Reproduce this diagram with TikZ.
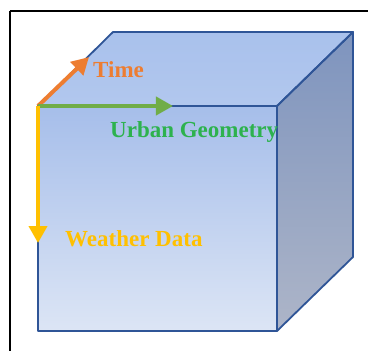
\documentclass[tikz,border=0pt]{standalone}
\usepackage{fontspec}
\setmainfont{Liberation Serif}
\usetikzlibrary{arrows.meta}
\definecolor{edgeblue}{HTML}{2F5597}
\definecolor{frontTop}{HTML}{A6BEEA}
\definecolor{frontBot}{HTML}{DCE5F5}
\definecolor{topFace}{HTML}{A9C1EC}
\definecolor{sideTop}{HTML}{7E94BE}
\definecolor{sideBot}{HTML}{ADB5C8}
\definecolor{orangeA}{HTML}{ED7D31}
\definecolor{greenA}{HTML}{70AD47}
\definecolor{greenT}{HTML}{2DB24E}
\definecolor{yellowA}{HTML}{FFC000}
\tikzset{
  face/.style={draw=edgeblue, line width=1.8pt, line join=round},
  axis/.style={line width=4pt, -{Triangle[length=17pt,width=18pt]}},
  lbl/.style={font=\fontsize{23}{26}\selectfont\bfseries, anchor=base west, inner sep=0pt}
}
\begin{document}
\begin{tikzpicture}[x=1pt,y=-1pt]
\useasboundingbox (0,0) rectangle (368,351);
\fill[white] (0,0) rectangle (368,351);
\draw[line width=2pt] (10,11) -- (10,360) (10,11) -- (380,11);
% cube corners
\coordinate (A) at (38,106);
\coordinate (B) at (277,106);
\coordinate (C) at (277,331);
\coordinate (D) at (38,331);
\coordinate (E) at (113,32);
\coordinate (F) at (353,32);
\coordinate (G) at (353,257);
% faces
\shade[top color=topFace, bottom color=topFace!90!white] (A) -- (E) -- (F) -- (B) -- cycle;
\shade[top color=sideTop, bottom color=sideBot] (B) -- (F) -- (G) -- (C) -- cycle;
\shade[top color=frontTop, bottom color=frontBot] (A) -- (B) -- (C) -- (D) -- cycle;
\draw[face] (A) -- (E) -- (F) -- (B) -- cycle;
\draw[face] (B) -- (F) -- (G) -- (C) -- cycle;
\draw[face] (A) -- (B) -- (C) -- (D) -- cycle;
% axes
\coordinate (T) at (89,57);
\coordinate (U) at (173,106);
\coordinate (W) at (38,243);
\draw[axis, orangeA] (A) -- (T);
\draw[axis, greenA] (A) -- (U);
\draw[axis, yellowA] (A) -- (W);
% labels
\node[lbl, text=orangeA] (tl) at (93,77) {Time};
\node[lbl, text=greenT] (ul) at (110,137) {Urban Geometry};
\node[lbl, text=yellowA] (wl) at (65,246) {Weather Data};
\end{tikzpicture}
\end{document}
